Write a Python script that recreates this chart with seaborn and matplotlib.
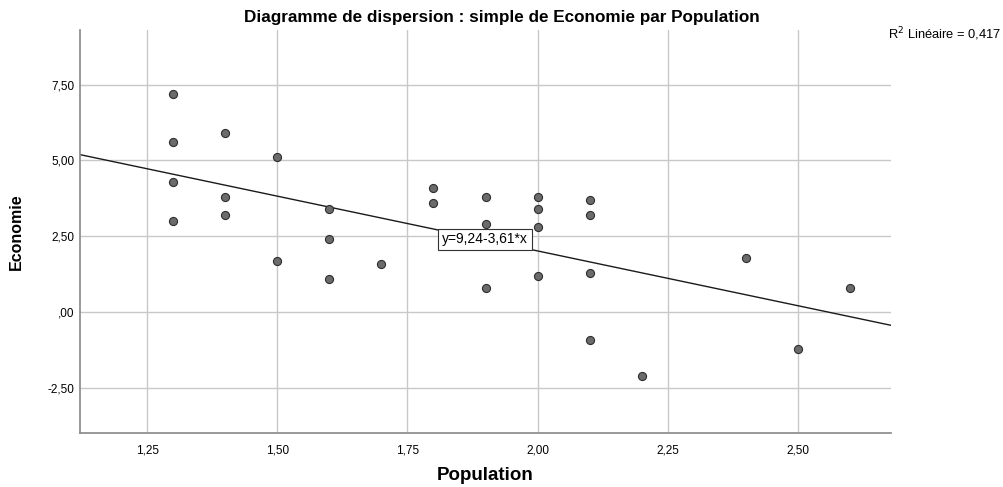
import matplotlib
matplotlib.use("Agg")
import matplotlib.pyplot as plt
import seaborn as sns
import numpy as np
import pandas as pd

population = [1.3, 1.3, 1.3, 1.3, 1.4, 1.4, 1.4, 1.5, 1.5, 1.6, 1.6, 1.6, 1.7,
              1.8, 1.8, 1.9, 1.9, 1.9, 2.0, 2.0, 2.0, 2.0, 2.1, 2.1, 2.1, 2.1,
              2.2, 2.4, 2.5, 2.6]
economie = [7.2, 5.6, 4.3, 3.0, 5.9, 3.8, 3.2, 5.1, 1.7, 3.4, 2.4, 1.1, 1.6,
            4.1, 3.6, 3.8, 2.9, 0.8, 3.8, 3.4, 2.8, 1.2, 3.7, 3.2, 1.3, -0.9,
            -2.1, 1.8, -1.2, 0.8]
intercept = 9.24
slope = -3.61
r2_text = "0,417"
xticks = [1.25, 1.50, 1.75, 2.00, 2.25, 2.50]
xtick_labels = ["1,25", "1,50", "1,75", "2,00", "2,25", "2,50"]
yticks = [-2.5, 0.0, 2.5, 5.0, 7.5]
ytick_labels = ["-2,50", ",00", "2,50", "5,00", "7,50"]

df = pd.DataFrame({"Population": population, "Economie": economie})

sns.set_style("white")
plt.rcParams["font.family"] = ["Liberation Sans", "DejaVu Sans"]
plt.rcParams["text.color"] = "black"
plt.rcParams["axes.labelcolor"] = "black"

fig = plt.figure(figsize=(10.04, 4.87), dpi=100)
ax = fig.add_axes([80 / 1004, (487 - 433) / 487, (891 - 80) / 1004, (433 - 30) / 487])

xlim = (1.121, 2.679)
ylim = (-3.98, 9.3)
ax.set_xlim(*xlim)
ax.set_ylim(*ylim)

ax.set_axisbelow(True)
ax.grid(True, color="#c8c8c8", linewidth=1.0)

xs = np.array(xlim)
sns.lineplot(x=xs, y=intercept + slope * xs, ax=ax, color="#1a1a1a", linewidth=1.0, zorder=2)

sns.scatterplot(data=df, x="Population", y="Economie", ax=ax, s=34,
                color="#6b6b6b", edgecolor="#2e2e2e", linewidth=0.8, zorder=3)

ax.text(1.816, 2.40, f"y={intercept:.2f}-{abs(slope):.2f}*x".replace(".", ","),
        fontsize=10, va="center", ha="left", zorder=4,
        bbox=dict(boxstyle="square,pad=0.28", facecolor="white", edgecolor="#333333", linewidth=0.8))

ax.set_xticks(xticks)
ax.set_xticklabels(xtick_labels, fontsize=8.5)
ax.set_yticks(yticks)
ax.set_yticklabels(ytick_labels, fontsize=8.5)
ax.tick_params(axis="x", length=0, pad=8, colors="black")
ax.tick_params(axis="y", length=0, pad=4, colors="black")

for side in ["top", "right"]:
    ax.spines[side].set_visible(False)
for side in ["left", "bottom"]:
    ax.spines[side].set_color("#888888")
    ax.spines[side].set_linewidth(1.2)

ax.set_xlabel("Population", fontsize=13.5, fontweight="bold", labelpad=8)
ax.set_ylabel("Economie", fontsize=11.5, fontweight="bold", labelpad=17)

fig.suptitle("Diagramme de dispersion : simple de Economie par Population",
             fontsize=12.3, fontweight="bold", x=0.5, y=0.98)

fig.text(1001 / 1004, 0.93, "R$^2$ Linéaire = " + r2_text, fontsize=9.3, ha="right", va="center")

fig.savefig("out.png", dpi=100)
